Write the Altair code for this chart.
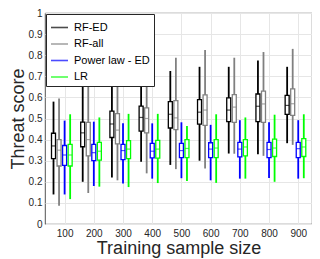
import altair as alt
import pandas as pd

sizes = [100, 200, 300, 400, 500, 600, 700, 800, 900]
series_names = ["RF-ED", "RF-all", "Power law - ED", "LR"]
series_colors = ["#000000", "#808080", "#0000ff", "#00ff00"]

rf_ed_hi = [0.58, 0.66, 0.71, 0.733, 0.725, 0.745, 0.745, 0.775, 0.745]
rf_ed_q3 = [0.43, 0.483, 0.535, 0.559, 0.58, 0.589, 0.598, 0.616, 0.61]
rf_ed_med = [0.37, 0.432, 0.474, 0.505, 0.52, 0.53, 0.54, 0.558, 0.562]
rf_ed_q1 = [0.31, 0.366, 0.41, 0.44, 0.455, 0.473, 0.485, 0.485, 0.52]
rf_ed_lo = [0.14, 0.20, 0.22, 0.295, 0.28, 0.30, 0.334, 0.33, 0.383]

rf_all_hi = [0.595, 0.688, 0.735, 0.735, 0.788, 0.825, 0.788, 0.815, 0.83]
rf_all_q3 = [0.40, 0.482, 0.523, 0.55, 0.585, 0.612, 0.613, 0.63, 0.64]
rf_all_med = [0.35, 0.40, 0.445, 0.50, 0.503, 0.54, 0.554, 0.569, 0.57]
rf_all_q1 = [0.275, 0.323, 0.38, 0.432, 0.447, 0.467, 0.482, 0.482, 0.515]
rf_all_lo = [0.087, 0.147, 0.207, 0.24, 0.26, 0.263, 0.333, 0.323, 0.375]

pl_hi = [0.49, 0.485, 0.477, 0.477, 0.482, 0.47, 0.492, 0.482, 0.492]
pl_q3 = [0.372, 0.377, 0.377, 0.382, 0.382, 0.385, 0.387, 0.387, 0.387]
pl_med = [0.327, 0.338, 0.348, 0.345, 0.348, 0.355, 0.355, 0.353, 0.357]
pl_q1 = [0.278, 0.3, 0.305, 0.313, 0.315, 0.315, 0.318, 0.315, 0.315]
pl_lo = [0.14, 0.18, 0.192, 0.215, 0.217, 0.207, 0.215, 0.218, 0.215]

lr_hi = [0.52, 0.505, 0.522, 0.522, 0.464, 0.52, 0.505, 0.518, 0.52]
lr_q3 = [0.377, 0.387, 0.395, 0.396, 0.40, 0.40, 0.40, 0.402, 0.405]
lr_med = [0.327, 0.345, 0.355, 0.355, 0.358, 0.36, 0.365, 0.36, 0.365]
lr_q1 = [0.275, 0.303, 0.31, 0.312, 0.315, 0.315, 0.323, 0.32, 0.32]
lr_lo = [0.118, 0.177, 0.175, 0.194, 0.204, 0.195, 0.215, 0.20, 0.217]

stats = {
    "RF-ED": (rf_ed_lo, rf_ed_q1, rf_ed_med, rf_ed_q3, rf_ed_hi),
    "RF-all": (rf_all_lo, rf_all_q1, rf_all_med, rf_all_q3, rf_all_hi),
    "Power law - ED": (pl_lo, pl_q1, pl_med, pl_q3, pl_hi),
    "LR": (lr_lo, lr_q1, lr_med, lr_q3, lr_hi),
}

rows = []
for name in series_names:
    lo, q1, med, q3, hi = stats[name]
    for i, s in enumerate(sizes):
        rows.append({"size": s, "series": name, "lo": lo[i], "q1": q1[i],
                     "med": med[i], "q3": q3[i], "hi": hi[i]})
df = pd.DataFrame(rows)

FONT = "Liberation Sans"
TXT = "#262626"

xscale = alt.Scale(domain=[50, 930], nice=False, zero=False)
yscale = alt.Scale(domain=[0, 1], nice=False)
cscale = alt.Scale(domain=series_names, range=series_colors)

xaxis = alt.Axis(values=sizes, title="Training sample size", titleFontSize=18,
                 titleFontWeight="normal", titleColor=TXT, titlePadding=1,
                 labelFontSize=10, labelColor=TXT, labelPadding=4,
                 labelOverlap=False, grid=True, gridColor="#e6e6e6",
                 ticks=False, domain=False)
yaxis = alt.Axis(values=[round(0.1 * k, 1) for k in range(11)], format="~g",
                 title="Threat score", titleFontSize=18, titleFontWeight="normal",
                 titleColor=TXT, titlePadding=1, labelFontSize=10, labelColor=TXT,
                 labelPadding=3, labelOverlap=False, grid=True,
                 gridColor="#e6e6e6", ticks=False, domain=False)

base = alt.Chart(df).transform_calculate(
    idx="indexof(['RF-ED','RF-all','Power law - ED','LR'], datum.series)"
).transform_calculate(
    xpos="datum.size + (datum.idx - 2) * 19"
)

whisker = base.mark_rule(strokeWidth=1.8).encode(
    x=alt.X("xpos:Q", scale=xscale, axis=xaxis),
    y=alt.Y("lo:Q", scale=yscale, axis=yaxis),
    y2="hi:Q",
    color=alt.Color("series:N", scale=cscale, sort=series_names,
                    legend=alt.Legend(title=None, orient="top-left", offset=1,
                                      fillColor="white", strokeColor=TXT,
                                      padding=4, symbolType="stroke",
                                      symbolSize=290, symbolStrokeWidth=1.6,
                                      labelFontSize=11, labelFont=FONT,
                                      labelColor="#000000", rowPadding=1.5,
                                      labelOffset=5)),
)

box = base.mark_bar(size=4, fill="white", strokeWidth=1.3, orient="vertical").encode(
    x=alt.X("xpos:Q", scale=xscale, axis=xaxis),
    y=alt.Y("q1:Q", scale=yscale, axis=yaxis),
    y2="q3:Q",
    stroke=alt.Stroke("series:N", scale=cscale, legend=None),
)

median = base.mark_tick(orient="horizontal", size=4, thickness=1.2).encode(
    x=alt.X("xpos:Q", scale=xscale, axis=xaxis),
    y=alt.Y("med:Q", scale=yscale, axis=yaxis),
    color=alt.Color("series:N", scale=cscale, sort=series_names),
)

chart = alt.layer(whisker, box, median).properties(
    width=267, height=211,
    autosize=alt.AutoSizeParams(type="none"),
    padding={"left": 37, "right": 0, "top": 5, "bottom": 35},
).configure(font=FONT).configure_axis(
    labelOverlap=False, labelBound=False, labelFlush=False
).configure_view(stroke=TXT, strokeWidth=0.8)

chart.save("out.html", embed_options={"renderer": "svg", "actions": False})
